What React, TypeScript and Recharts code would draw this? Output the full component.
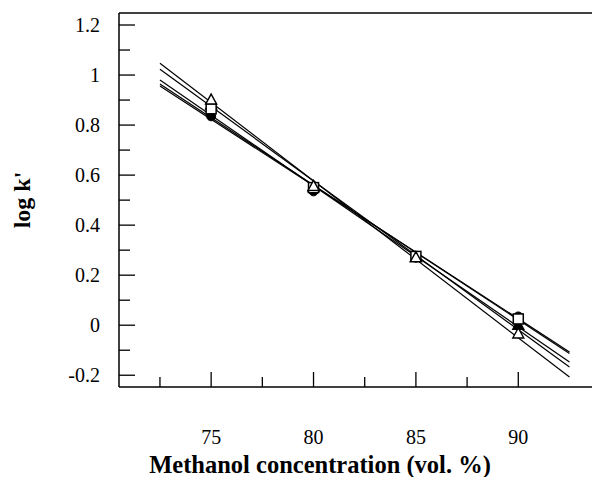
import { ScatterChart, Scatter, XAxis, YAxis, Label } from "recharts";

// methanol concentration (vol. %) of the measured points
const CONC = [75, 80, 85, 90];

// log k' for each solute
const FILLED_CIRCLE = [0.835, 0.535, 0.27, 0.035];
const OPEN_SQUARE = [0.865, 0.55, 0.275, 0.025];
const FILLED_TRIANGLE = [0.88, 0.55, 0.27, 0.0];
const OPEN_TRIANGLE = [0.9, 0.555, 0.27, -0.035];

// regression lines: value at the two ends
const FIT_X = [72.5, 92.5];
const FIT_START = [1.047, 1.023, 0.98, 0.964, 0.956];
const FIT_END = [-0.207, -0.167, -0.147, -0.113, -0.107];

const X_TICKS = [72.5, 75, 77.5, 80, 82.5, 85, 87.5, 90];
const X_LABELS = [75, 80, 85, 90];
const Y_TICKS = [-0.2, -0.1, 0, 0.1, 0.2, 0.3, 0.4, 0.5, 0.6, 0.7, 0.8, 0.9, 1, 1.1, 1.2];
const Y_LABELS = [-0.2, 0, 0.2, 0.4, 0.6, 0.8, 1, 1.2];

const X_DOMAIN = [70.5, 93.6];
const Y_DOMAIN = [-0.247, 1.248];

const FONT = "'Liberation Serif', 'Times New Roman', serif";
const INK = "#000";

const toPoints = (ys: number[]) => CONC.map((x, i) => ({ x, y: ys[i] }));

const fits = FIT_START.map((s, i) => [
  { x: FIT_X[0], y: s },
  { x: FIT_X[1], y: FIT_END[i] },
]);

const isLabel = (list: number[], v: number) => list.some((l) => Math.abs(l - v) < 1e-6);

function YTick(props: any) {
  const { x, y, payload } = props;
  const v = payload.value;
  const major = isLabel(Y_LABELS, v);
  return (
    <g>
      <line x1={x} x2={x + (major ? 16 : 11)} y1={y} y2={y} stroke={INK} strokeWidth={1.3} />
      {major && (
        <text x={x - 19} y={y} dy={7} textAnchor="end" fontSize={20} fontFamily={FONT} fill={INK}>
          {String(Math.round(v * 10) / 10)}
        </text>
      )}
    </g>
  );
}

function XTick(props: any) {
  const { x, y, payload } = props;
  const v = payload.value;
  const major = isLabel(X_LABELS, v);
  return (
    <g>
      <line x1={x} x2={x} y1={y} y2={y - (major ? 15 : 10)} stroke={INK} strokeWidth={1.3} />
      {major && (
        <text x={x} y={y + 57} textAnchor="middle" fontSize={20} fontFamily={FONT} fill={INK}>
          {String(v)}
        </text>
      )}
    </g>
  );
}

const none = () => <g />;

function circleShape(props: any) {
  return <circle cx={props.cx} cy={props.cy} r={4.5} fill={INK} stroke={INK} strokeWidth={1} />;
}

function squareShape(props: any) {
  const { cx, cy } = props;
  return <rect x={cx - 5} y={cy - 5} width={10} height={10} fill="#fff" stroke={INK} strokeWidth={1.5} />;
}

function triangle(filled: boolean) {
  return (props: any) => {
    const { cx, cy } = props;
    const pts = `${cx},${cy - 6} ${cx + 5.5},${cy + 4} ${cx - 5.5},${cy + 4}`;
    return <polygon points={pts} fill={filled ? INK : "#fff"} stroke={INK} strokeWidth={1.4} />;
  };
}

export default function App() {
  return (
    <div style={{ width: 601, height: 477 }}>
      <style>{"body{margin:0}"}</style>
      <ScatterChart width={601} height={477} margin={{ top: 12, right: 9, bottom: 89, left: 118 }}>
        <XAxis
          xAxisId="top"
          orientation="top"
          type="number"
          domain={X_DOMAIN}
          allowDataOverflow
          height={1}
          tick={false}
          tickLine={false}
          axisLine={{ stroke: INK, strokeWidth: 1.5 }}
        />
        <XAxis
          dataKey="x"
          type="number"
          domain={X_DOMAIN}
          allowDataOverflow
          ticks={X_TICKS}
          interval={0}
          height={1}
          tickSize={0}
          tickMargin={0}
          tickLine={false}
          tick={XTick}
          axisLine={{ stroke: INK, strokeWidth: 1.5 }}
        >
          <Label
            content={() => (
              <text x={320} y={473} textAnchor="middle" fontSize={24.5} fontWeight="bold" fontFamily={FONT} fill={INK}>
                Methanol concentration (vol. %)
              </text>
            )}
          />
        </XAxis>
        <YAxis
          dataKey="y"
          type="number"
          domain={Y_DOMAIN}
          allowDataOverflow
          ticks={Y_TICKS}
          interval={0}
          width={1}
          tickSize={0}
          tickMargin={0}
          tickLine={false}
          tick={YTick}
          axisLine={{ stroke: INK, strokeWidth: 1.5 }}
        >
          <Label
            content={() => (
              <text
                x={30}
                y={200}
                transform="rotate(-90 30 200)"
                textAnchor="middle"
                fontSize={24}
                fontWeight="bold"
                fontFamily={FONT}
                fill={INK}
              >
                log k'
              </text>
            )}
          />
        </YAxis>
        {fits.map((d, i) => (
          <Scatter
            key={"fit" + i}
            data={d}
            line={{ stroke: INK, strokeWidth: 1.2 }}
            lineType="joint"
            shape={none}
            isAnimationActive={false}
          />
        ))}
        <Scatter data={toPoints(FILLED_CIRCLE)} shape={circleShape} isAnimationActive={false} />
        <Scatter data={toPoints(FILLED_TRIANGLE)} shape={triangle(true)} isAnimationActive={false} />
        <Scatter data={toPoints(OPEN_SQUARE)} shape={squareShape} isAnimationActive={false} />
        <Scatter data={toPoints(OPEN_TRIANGLE)} shape={triangle(false)} isAnimationActive={false} />
      </ScatterChart>
    </div>
  );
}
